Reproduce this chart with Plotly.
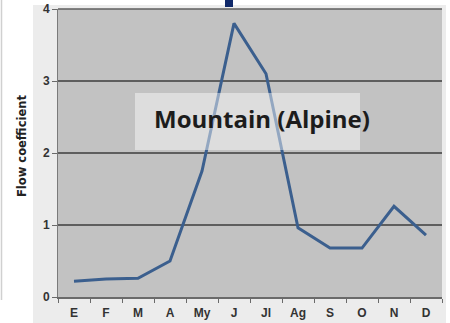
import plotly.graph_objects as go

months = ["E", "F", "M", "A", "My", "J", "Jl", "Ag", "S", "O", "N", "D"]
flow_coefficient = [0.22, 0.25, 0.26, 0.50, 1.75, 3.80, 3.10, 0.96, 0.68, 0.68, 1.26, 0.86]
y_ticks = [0, 1, 2, 3, 4]
label_text = "Mountain (Alpine)"
y_title = "Flow coefficient"

W, H = 450, 323
L, R, T, B = 58, 8, 9, 26
pw, ph = W - L - R, H - T - B


def px(x):
    return (x - L) / pw


def py(y):
    return (H - B - y) / ph


fig = go.Figure()
fig.add_trace(go.Scatter(
    x=months, y=flow_coefficient, mode="lines",
    line=dict(color="#3b5f8e", width=3),
    hoverinfo="skip", showlegend=False,
))

shapes = [
    # light grey frame around the chart
    dict(type="rect", xref="paper", yref="paper", x0=px(33), x1=px(446), y0=py(323), y1=py(5),
         fillcolor="#ececec", line=dict(width=0), layer="below"),
    # faint edge at far left
    dict(type="line", xref="paper", yref="paper", x0=px(1.5), x1=px(1.5), y0=py(300), y1=py(0),
         line=dict(color="#d0d0d0", width=1.5), layer="below"),
    # plot area fill
    dict(type="rect", xref="paper", yref="paper", x0=0, x1=1, y0=0, y1=1,
         fillcolor="#c2c2c2", line=dict(width=0), layer="below"),
    # top grid line
    dict(type="line", xref="paper", yref="paper", x0=0, x1=1, y0=1, y1=1,
         line=dict(color="#5e5e5e", width=1.5), layer="below"),
    # translucent label box
    dict(type="rect", xref="paper", yref="paper", x0=px(135), x1=px(360), y0=py(150), y1=py(93),
         fillcolor="rgba(255,255,255,0.45)", line=dict(width=0), layer="above"),
    # dark blob at top
    dict(type="rect", xref="paper", yref="paper", x0=px(225), x1=px(233), y0=py(7), y1=py(0),
         fillcolor="#10296a", line=dict(width=0), layer="above"),
]

annotations = [
    dict(text=f"<b>{label_text}</b>", xref="paper", yref="paper", x=px(262), y=py(118),
         showarrow=False, xanchor="center", yanchor="middle",
         font=dict(family="Open Sans", size=24, color="#1c1c1c")),
    dict(text=f"<b>{y_title}</b>", xref="paper", yref="paper", x=px(22), y=py(146),
         showarrow=False, textangle=-90, xanchor="center", yanchor="middle",
         font=dict(family="DejaVu Sans", size=11.5, color="#222222")),
]

fig.update_layout(
    width=W, height=H,
    margin=dict(l=L, r=R, t=T, b=B, pad=0, autoexpand=False),
    paper_bgcolor="white",
    plot_bgcolor="rgba(0,0,0,0)",
    shapes=shapes,
    annotations=annotations,
    xaxis=dict(
        type="category", categoryorder="array", categoryarray=months,
        range=[-0.5, len(months) - 0.5],
        showgrid=False, zeroline=False, automargin=False,
        showline=True, linecolor="#6a6a6a", linewidth=1.5,
        ticks="outside", tickson="boundaries", ticklen=4, tickcolor="#6a6a6a",
        ticklabelstandoff=4,
        tickfont=dict(family="Liberation Sans", size=12, color="#333333", weight="bold"),
        fixedrange=True,
    ),
    yaxis=dict(
        range=[0, 4], tickvals=y_ticks, automargin=False,
        showgrid=True, gridcolor="#5e5e5e", gridwidth=1.5,
        zeroline=False,
        showline=True, linecolor="#7a7a7a", linewidth=1,
        ticks="outside", ticklen=5, tickcolor="#6a6a6a",
        tickfont=dict(family="Liberation Sans", size=12, color="#333333", weight="bold"),
        fixedrange=True,
    ),
)

fig.write_html("out.html", config={"displayModeBar": False})
